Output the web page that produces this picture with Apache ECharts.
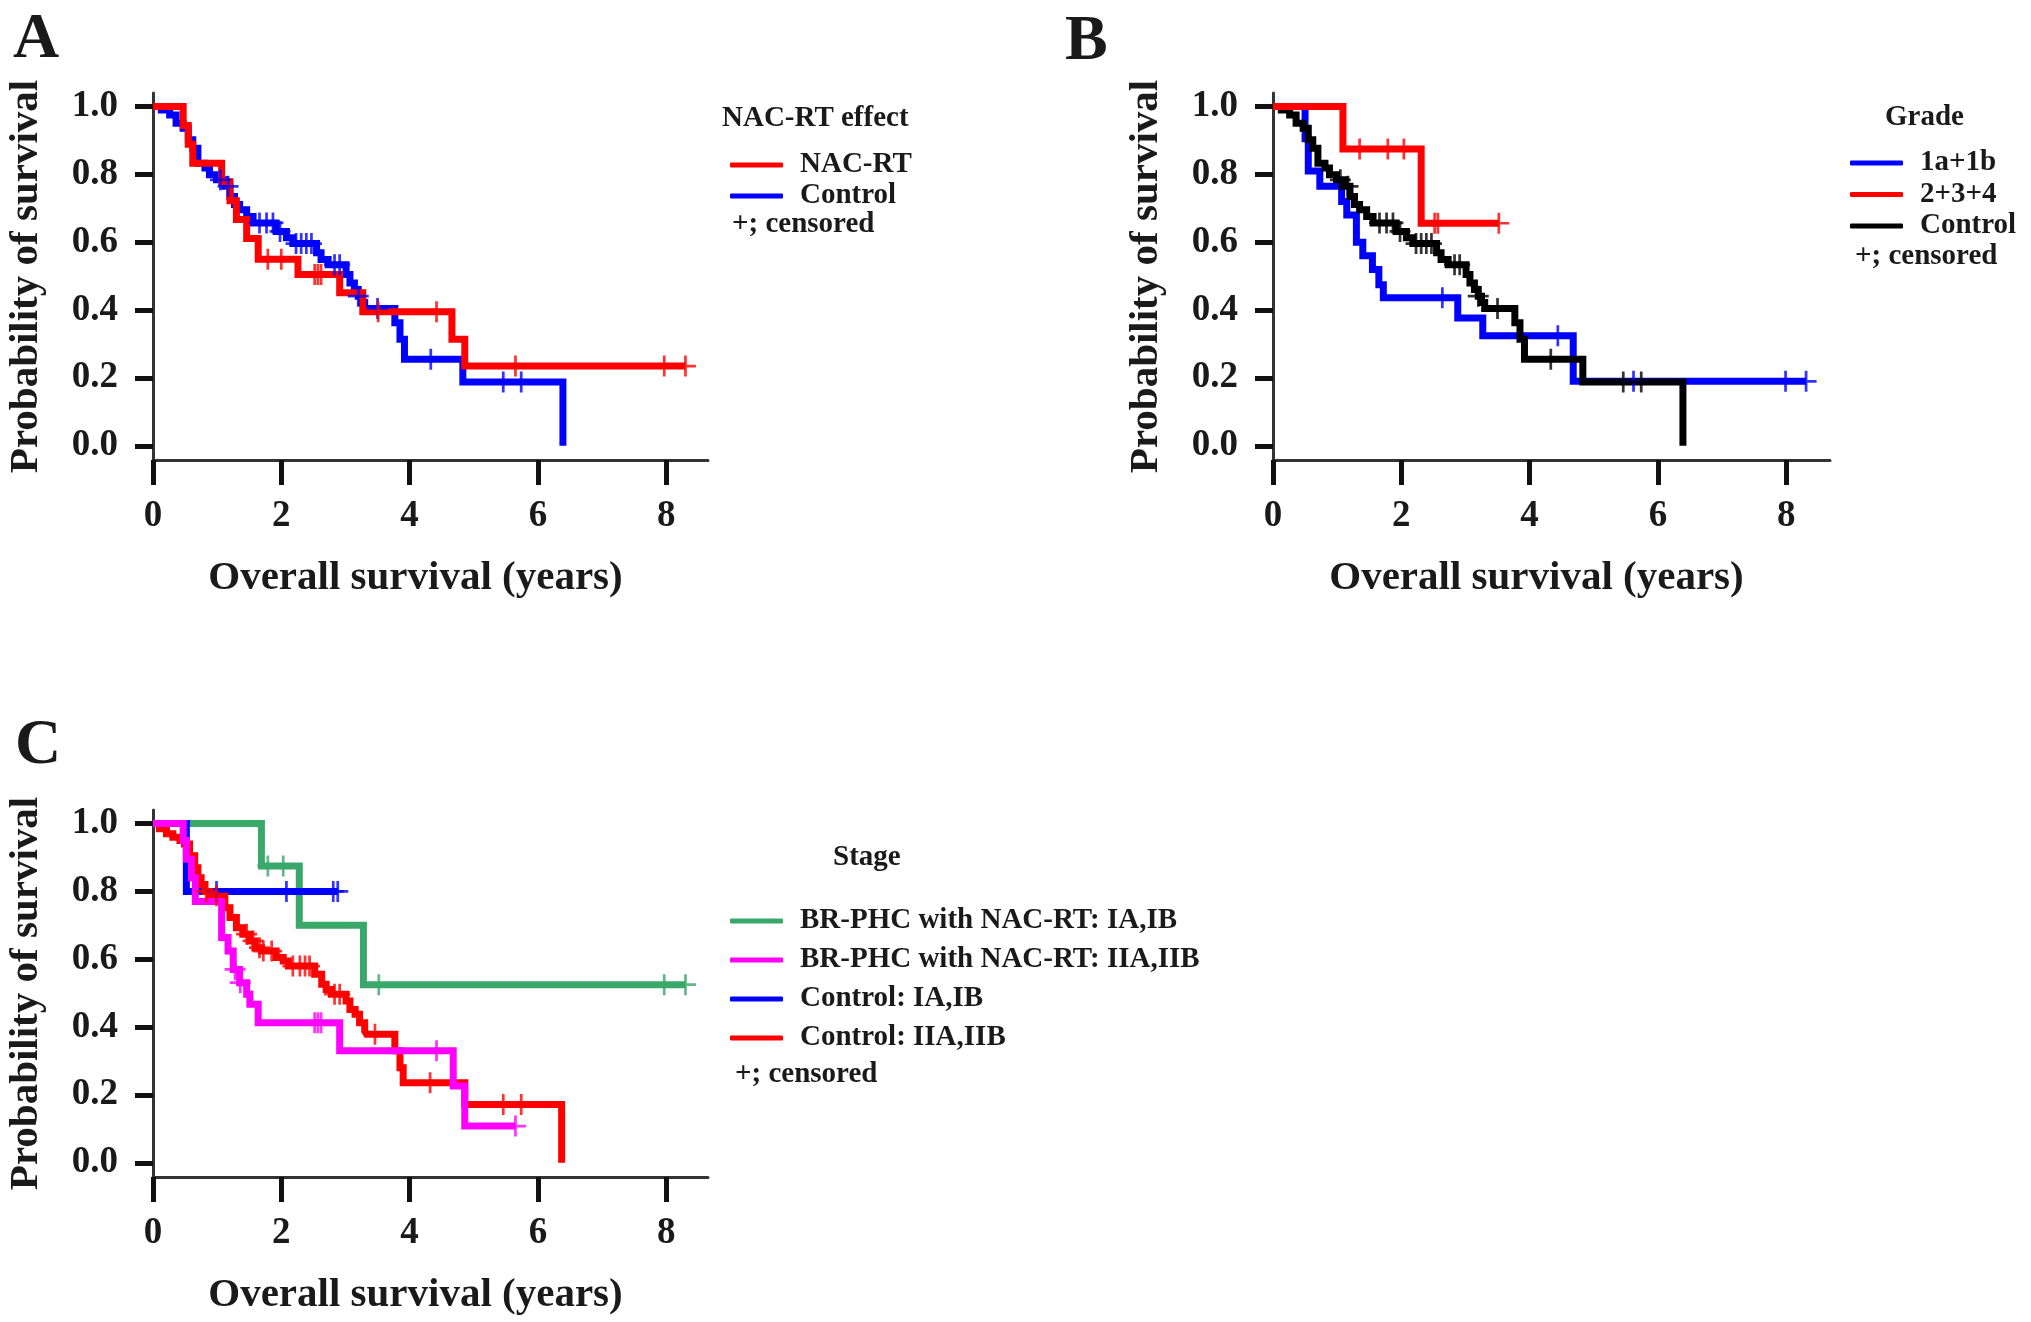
<!DOCTYPE html>
<html>
<head>
<meta charset="utf-8">
<script src="https://cdn.jsdelivr.net/npm/echarts@6/dist/echarts.min.js"></script>
<style>
html,body{margin:0;padding:0;background:#fff;}
#main{width:2031px;height:1322px;}
</style>
</head>
<body>
<div id="main"></div>
<script>
// ---------------- DATA ----------------
// Panel A: NAC-RT effect
const timesA_NACRT = [0.47,0.55,0.62,1.07,1.20,1.30,1.46,1.64,2.26,2.91,3.27,4.66,4.86];
const survA_NACRT  = [0.944,0.889,0.833,0.778,0.722,0.667,0.611,0.550,0.505,0.451,0.395,0.314,0.235];
const censA_NACRT  = [1.79,2.00,2.52,2.57,2.62,3.51,4.42,5.65,7.97,8.30];

// Control group (same curve in panels A and B)
const timesControl = [0.13,0.26,0.36,0.47,0.55,0.62,0.70,0.81,0.88,0.99,1.12,1.20,1.27,1.35,1.46,1.56,1.92,2.08,2.18,2.55,2.62,2.73,3.01,3.07,3.14,3.20,3.25,3.30,3.77,3.85,3.92,4.83,6.39];
const survControl  = [0.99,0.975,0.951,0.936,0.902,0.877,0.833,0.819,0.799,0.784,0.765,0.735,0.711,0.696,0.676,0.657,0.632,0.613,0.596,0.569,0.549,0.534,0.505,0.480,0.461,0.441,0.422,0.405,0.363,0.314,0.255,0.188,0];
const censControl  = [1.05,1.17,1.66,1.77,1.87,1.98,2.23,2.31,2.39,2.47,2.83,2.91,3.20,3.50,4.33,5.46,5.74];

// Panel B: Grade
const timesB_1a1b = [0.50,0.55,0.73,1.07,1.15,1.30,1.40,1.55,1.65,1.72,2.88,3.27,4.68];
const survB_1a1b  = [0.905,0.81,0.765,0.72,0.68,0.60,0.56,0.52,0.475,0.436,0.377,0.324,0.19];
const censB_1a1b  = [2.64,4.44,5.62,7.99,8.31];

const timesB_234 = [1.09,2.31];
const survB_234  = [0.875,0.656];
const censB_234  = [1.35,1.79,2.04,2.52,2.57,3.52];

// Panel C: Stage
const timesC_NacI = [1.69,2.28,3.28];
const survC_NacI  = [0.875,0.70,0.525];
const censC_NacI  = [1.79,2.03,3.52,7.97,8.30];

const timesC_NacII = [0.47,0.52,0.60,0.66,1.07,1.17,1.25,1.35,1.46,1.51,1.64,2.91,4.68,4.86];
const survC_NacII  = [0.95,0.895,0.84,0.77,0.664,0.624,0.57,0.531,0.497,0.467,0.413,0.33,0.226,0.108];
const censC_NacII  = [1.28,1.36,2.52,2.57,2.62,4.42,5.65];

const timesC_CtlI = [0.52];
const survC_CtlI  = [0.80];
const censC_CtlI  = [0.99,2.08,2.81,2.88];

const timesC_CtlII = [0.10,0.21,0.31,0.42,0.49,0.57,0.65,0.70,0.75,0.81,0.88,1.12,1.20,1.30,1.40,1.51,1.59,1.69,1.92,2.03,2.11,2.52,2.63,2.70,2.78,3.01,3.07,3.15,3.22,3.30,3.33,3.77,3.85,3.90,4.86,6.37];
const survC_CtlII  = [0.985,0.97,0.96,0.95,0.94,0.905,0.87,0.84,0.82,0.80,0.787,0.752,0.723,0.693,0.674,0.654,0.634,0.624,0.605,0.595,0.58,0.556,0.526,0.511,0.497,0.477,0.452,0.438,0.413,0.388,0.379,0.33,0.28,0.236,0.172,0];
const censC_CtlII  = [0.83,0.99,1.46,1.56,1.66,1.72,1.85,2.18,2.29,2.37,2.44,2.83,2.91,3.46,4.32,5.46,5.74];

// Tick labels
const xTicks = [0,2,4,6,8];
const yTicks = [0,0.2,0.4,0.6,0.8,1.0];

// ---------------- BUILD ----------------
const FONT = "'Liberation Serif','Times New Roman',serif";
const TXT = '#1a1a1a';
const PLUS = 'path://M-1.3,-10L1.3,-10L1.3,10L-1.3,10Z M-10,-1.3L10,-1.3L10,1.3L-10,1.3Z';

function kmSeries(name, idx, color, times, surv, cens) {
  const last = times.length - 1;
  const end = Math.max(times[last], ...cens);
  const data = [[0, 1]];
  times.forEach((t, i) => data.push([t, surv[i]]));
  if (end > times[last]) data.push([end, surv[last]]);
  const survAt = (t) => { let s = 1; times.forEach((tt, i) => { if (tt <= t) s = surv[i]; }); return s; };
  return [
    { name: name, type: 'line', xAxisIndex: idx, yAxisIndex: idx, step: 'end', data: data,
      symbol: 'none', showSymbol: false, color: color, lineStyle: { width: 7, color: color, cap: 'butt', join: 'miter' },
      z: 2, silent: true },
    { name: name, type: 'scatter', xAxisIndex: idx, yAxisIndex: idx, data: cens.map(c => [c, survAt(c)]),
      symbol: PLUS, symbolSize: 21, color: color, itemStyle: { color: color }, z: 3, silent: true }
  ];
}

const grids = [
  { left: 153, top: 93, width: 555, height: 367 },
  { left: 1273, top: 93, width: 557, height: 367 },
  { left: 153, top: 810, width: 555, height: 367 }
];

function xAx(i) {
  return {
    type: 'value', gridIndex: i, min: 0, max: (grids[i].width / 64.15),
    name: 'Overall survival (years)', nameLocation: 'middle', nameGap: 98,
    nameTextStyle: { fontFamily: FONT, fontWeight: 'bold', fontSize: 41, color: TXT, padding: [0, 30, 0, 0] },
    axisLine: { show: true, onZero: false, lineStyle: { color: '#333', width: 3 } },
    axisTick: { show: true, length: 25, customValues: xTicks, lineStyle: { color: '#111', width: 5 } },
    axisLabel: { customValues: xTicks, margin: 38, fontFamily: FONT, fontWeight: 'bold', fontSize: 37, color: TXT },
    splitLine: { show: false }
  };
}
function yAx(i) {
  return {
    type: 'value', gridIndex: i, min: -0.042, max: 1.04,
    name: 'Probability of survival', nameLocation: 'middle', nameGap: 106, nameRotate: 90,
    nameTextStyle: { fontFamily: FONT, fontWeight: 'bold', fontSize: 41, color: TXT },
    axisLine: { show: true, onZero: false, lineStyle: { color: '#333', width: 3 } },
    axisTick: { show: true, length: 18, customValues: yTicks, lineStyle: { color: '#111', width: 5 } },
    axisLabel: { customValues: yTicks, margin: 35, fontFamily: FONT, fontWeight: 'bold', fontSize: 37, color: TXT,
      formatter: v => Number(v).toFixed(1) },
    splitLine: { show: false }
  };
}

const series = [].concat(
  kmSeries('A|Control', 0, '#0000ff', timesControl, survControl, censControl),
  kmSeries('A|NAC-RT', 0, '#ff0000', timesA_NACRT, survA_NACRT, censA_NACRT),
  kmSeries('B|1a+1b', 1, '#0000ff', timesB_1a1b, survB_1a1b, censB_1a1b),
  kmSeries('B|Control', 1, '#000000', timesControl, survControl, censControl),
  kmSeries('B|2+3+4', 1, '#ff0000', timesB_234, survB_234, censB_234),
  kmSeries('C|BR-PHC with NAC-RT: IA,IB', 2, '#3aa86b', timesC_NacI, survC_NacI, censC_NacI),
  kmSeries('C|Control: IA,IB', 2, '#0000ff', timesC_CtlI, survC_CtlI, censC_CtlI),
  kmSeries('C|Control: IIA,IIB', 2, '#ff0000', timesC_CtlII, survC_CtlII, censC_CtlII),
  kmSeries('C|BR-PHC with NAC-RT: IIA,IIB', 2, '#ff00ff', timesC_NacII, survC_NacII, censC_NacII)
);

function legend(names, left, top, gap) {
  return {
    data: names, orient: 'vertical', left: left, top: top, padding: 0, itemGap: gap,
    icon: 'roundRect', itemWidth: 53, itemHeight: 5, selectedMode: false,
    formatter: n => n.split('|')[1],
    textStyle: { fontFamily: FONT, fontWeight: 'bold', fontSize: 29, lineHeight: 30, color: TXT, padding: [0, 0, 0, 12] }
  };
}

function txt(str, x, y, size) {
  return { type: 'text', left: x, top: y, silent: true,
    style: { text: str, fontFamily: FONT, fontWeight: 'bold', fontSize: size, fill: TXT, textVerticalAlign: 'middle' } };
}

const option = {
  animation: false,
  backgroundColor: '#ffffff',
  grid: grids,
  xAxis: [xAx(0), xAx(1), xAx(2)],
  yAxis: [yAx(0), yAx(1), yAx(2)],
  legend: [
    legend(['A|NAC-RT', 'A|Control'], 730, 150, 1),
    legend(['B|1a+1b', 'B|2+3+4', 'B|Control'], 1850, 148, 1.5),
    legend(['C|BR-PHC with NAC-RT: IA,IB', 'C|BR-PHC with NAC-RT: IIA,IIB', 'C|Control: IA,IB', 'C|Control: IIA,IIB'], 730, 906, 9)
  ],
  graphic: [
    txt('A', 13, 8, 64),
    txt('B', 1065, 10, 64),
    txt('C', 15, 714, 64),
    txt('NAC-RT effect', 722, 104, 29),
    txt('+; censored', 732, 210, 29),
    txt('Grade', 1885, 103, 29),
    txt('+; censored', 1855, 242, 29),
    txt('Stage', 833, 843, 29),
    txt('+; censored', 735, 1060, 29)
  ],
  series: series
};

const chart = echarts.init(document.getElementById('main'));
chart.setOption(option);
</script>
</body>
</html>
